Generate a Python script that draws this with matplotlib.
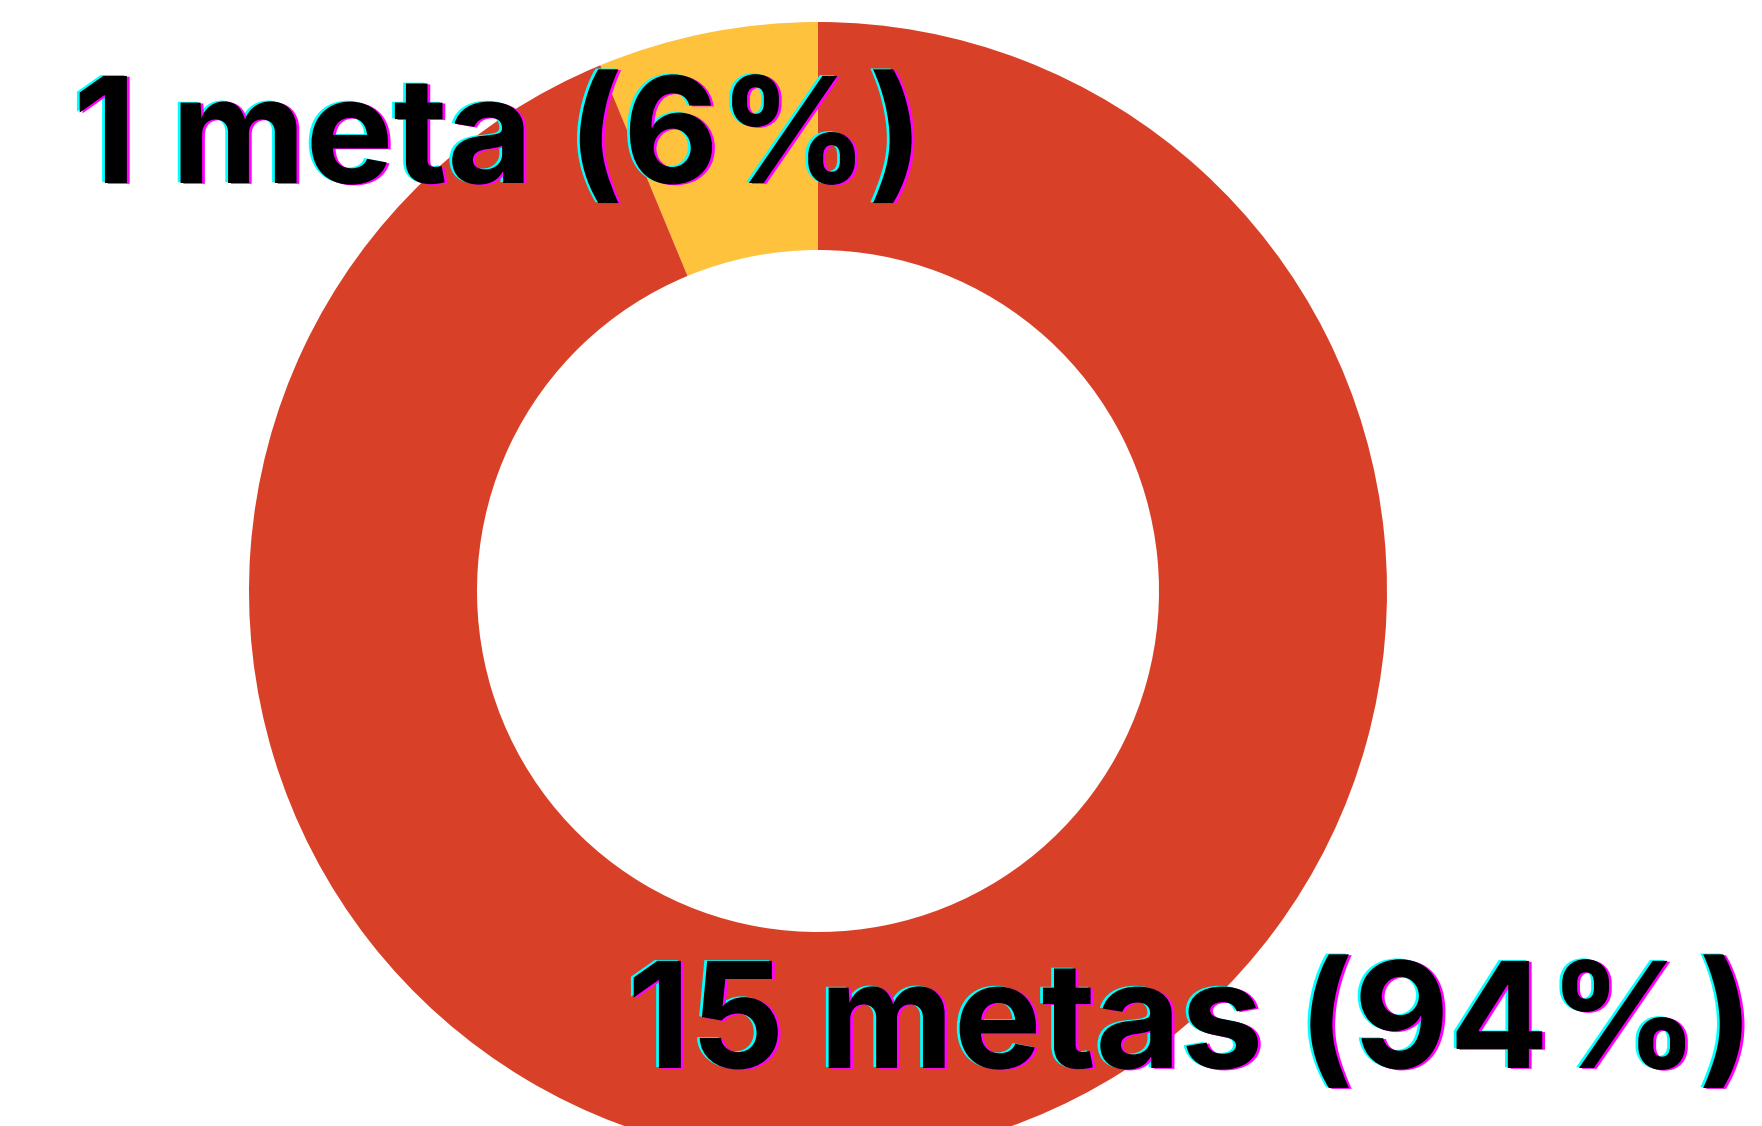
import numpy as np
import matplotlib
matplotlib.use('Agg')
import matplotlib.pyplot as plt
import matplotlib.patheffects as pe

# ---------- 数据 ----------
labels = ['meta', 'metas']
counts = [1, 15]
colors = ['#FEC23C', '#D84128']

W, H = 1762, 1126
fig = plt.figure(figsize=(W / 100, H / 100), dpi=100)
ax = fig.add_axes([0, 0, 1, 1])

cx, cy = 818, H - 591
R, r = 569, 341
ax.pie(counts, colors=colors, startangle=90, counterclock=True,
       center=(cx, cy), radius=R, frame=True,
       wedgeprops=dict(width=R - r, linewidth=0))
ax.set_xlim(0, W)
ax.set_ylim(0, H)
ax.set_aspect('equal')
ax.axis('off')

total = sum(counts)
texts = [f"{n} {lab} ({round(100 * n / total)}%)" for n, lab in zip(counts, labels)]
pos = [(73, H - 183), (627, H - 1068)]

# 青/品红错位描边效果
effects = [pe.PathPatchEffect(offset=(-2.0, 0.6), facecolor='#00FFFF', edgecolor='none'),
           pe.PathPatchEffect(offset=(2.0, -0.6), facecolor='#FF00FF', edgecolor='none'),
           pe.PathPatchEffect(facecolor='black', edgecolor='none')]

font = dict(family=['Inter', 'DejaVu Sans'], weight='bold', fontsize=106)
for t, (x, y) in zip(texts, pos):
    ax.text(x, y, t, color='black', ha='left', va='baseline',
            path_effects=effects, **font)

fig.savefig('out.png', dpi=100)
